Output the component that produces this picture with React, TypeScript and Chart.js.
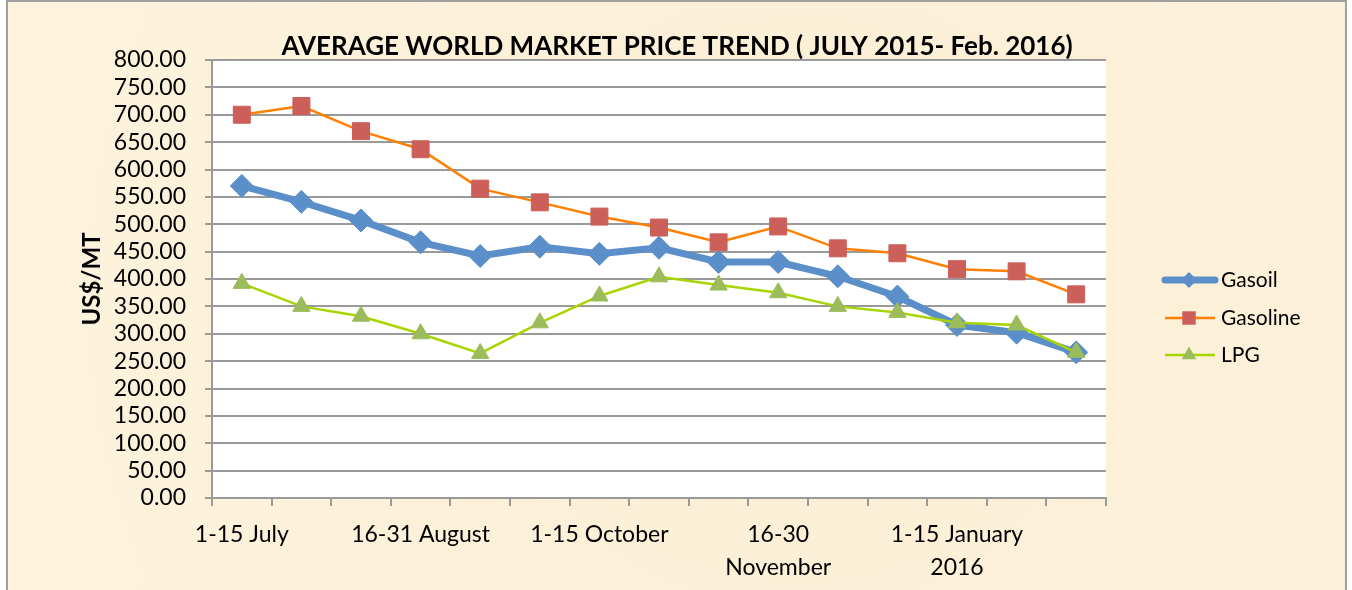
import React, { useEffect, useRef } from "react";
import { Chart, registerables } from "chart.js";

Chart.register(...registerables);

const categories: (string | string[])[] = [
  "1-15 July",
  "16-31 July",
  "1-15 August",
  "16-31 August",
  "1-15 September",
  "16-30 September",
  "1-15 October",
  "16-31 October",
  "1-15 November",
  ["16-30", "November"],
  "1-15 December",
  "16-31 December",
  ["1-15 January", "2016"],
  "16-31 January 2016",
  "1-15 February 2016",
];

const gasoil = [570, 541, 507, 467, 442, 459, 446, 457, 431, 431, 405, 368, 316, 302, 266];
const gasoline = [700, 716, 670, 637, 565, 540, 514, 494, 467, 496, 456, 447, 418, 414, 372];
const lpg = [392, 350, 332, 300, 264, 320, 369, 404, 389, 375, 350, 339, 320, 316, 266];

const titleText = "AVERAGE WORLD MARKET PRICE TREND ( JULY 2015- Feb. 2016)";
const yTitle = "US$/MT";
const seriesNames = ["Gasoil", "Gasoline", "LPG"];

const FONT = "Lato, 'Open Sans', sans-serif";

const W = 1352;
const H = 590;

export default function App() {
  const ref = useRef<HTMLCanvasElement | null>(null);

  useEffect(() => {
    document.body.style.margin = "0";
    const canvas = ref.current!;
    const styles = [
      { line: "#5b8fca", point: "#5b8fca", width: 7, style: "rectRot", radius: 11.5 },
      { line: "#ff8000", point: "#cd5f5b", width: 2.5, style: "rect", radius: 12 },
      { line: "#a8d500", point: "#9cbc5b", width: 2.5, style: "triangle", radius: 10 },
    ];

    const bgPlugin = {
      id: "bg",
      beforeDraw(chart: any) {
        const { ctx, chartArea } = chart;
        ctx.save();
        ctx.fillStyle = "#ffffff";
        ctx.fillRect(0, 0, W, H);
        ctx.fillStyle = "#fcf0d9";
        ctx.fillRect(7, 1, 1339, H);
        const g = ctx.createRadialGradient(800, 300, 20, 800, 300, 800);
        g.addColorStop(0, "rgba(248,232,198,0.25)");
        g.addColorStop(1, "rgba(255,250,235,0.2)");
        ctx.fillStyle = g;
        ctx.fillRect(7, 1, 1339, H);
        ctx.strokeStyle = "#a0a0a0";
        ctx.lineWidth = 2;
        ctx.strokeRect(7, 1, 1339, H + 5);
        ctx.fillStyle = "#ffffff";
        ctx.fillRect(chartArea.left, chartArea.top, chartArea.right - chartArea.left, chartArea.bottom - chartArea.top);
        ctx.restore();
      },
      beforeDatasetsDraw(chart: any) {
        const { ctx, chartArea } = chart;
        ctx.save();
        ctx.strokeStyle = "#9a9a9a";
        ctx.lineWidth = 2;
        ctx.beginPath();
        ctx.moveTo(chartArea.left - 1, chartArea.bottom);
        ctx.lineTo(chartArea.right + 1, chartArea.bottom);
        ctx.stroke();
        ctx.restore();
      },
      afterDraw(chart: any) {
        const { ctx } = chart;
        ctx.save();
        ctx.fillStyle = "#000";
        ctx.font = `bold 26px ${FONT}`;
        ctx.textAlign = "center";
        ctx.textBaseline = "middle";
        ctx.fillText(titleText, 677, 47);

        ctx.translate(92, 279);
        ctx.rotate(-Math.PI / 2);
        ctx.font = `bold 24px ${FONT}`;
        ctx.fillText(yTitle, 0, 0);
        ctx.restore();

        // legend
        const ys = [280, 318, 355];
        ctx.save();
        seriesNames.forEach((name, i) => {
          const s = styles[i];
          const y = ys[i];
          ctx.strokeStyle = s.line;
          ctx.lineWidth = s.width;
          ctx.lineCap = i === 0 ? "round" : "butt";
          ctx.beginPath();
          ctx.moveTo(1165, y);
          ctx.lineTo(1215, y);
          ctx.stroke();
          const r = i === 0 ? 8 : i === 1 ? 9.5 : 8.5;
          ctx.fillStyle = s.point;
          ctx.beginPath();
          if (i === 0) {
            ctx.moveTo(1189, y - r);
            ctx.lineTo(1189 + r, y);
            ctx.lineTo(1189, y + r);
            ctx.lineTo(1189 - r, y);
          } else if (i === 1) {
            const h = r * Math.SQRT1_2;
            ctx.rect(1189 - h, y - h, 2 * h, 2 * h);
          } else {
            ctx.moveTo(1189, y - r);
            ctx.lineTo(1189 + r * 0.866, y + r * 0.5);
            ctx.lineTo(1189 - r * 0.866, y + r * 0.5);
          }
          ctx.closePath();
          ctx.fill();
          ctx.fillStyle = "#000";
          ctx.font = `21px ${FONT}`;
          ctx.textAlign = "left";
          ctx.textBaseline = "middle";
          ctx.fillText(name, 1221, y);
        });
        ctx.restore();
      },
    };

    const data = [gasoil, gasoline, lpg];
    const chart = new Chart(canvas, {
      type: "line",
      data: {
        labels: categories as any,
        datasets: seriesNames.map((name, i) => ({
          label: name,
          data: data[i],
          borderColor: styles[i].line,
          borderWidth: styles[i].width,
          backgroundColor: styles[i].point,
          pointBackgroundColor: styles[i].point,
          pointBorderColor: styles[i].point,
          pointBorderWidth: 1,
          pointStyle: styles[i].style as any,
          pointRadius: styles[i].radius,
          pointHoverRadius: styles[i].radius,
          tension: 0,
          fill: false,
          order: 3 - i,
        })),
      },
      options: {
        responsive: false,
        animation: false,
        devicePixelRatio: 1,
        layout: { padding: { top: 60, right: W - 1106, left: 0, bottom: 0 } },
        plugins: {
          legend: { display: false },
          title: { display: false },
          tooltip: { enabled: false },
        },
        scales: {
          x: {
            offset: true,
            grid: {
              offset: true,
              drawOnChartArea: false,
              drawTicks: true,
              tickLength: 8,
              color: "#9a9a9a",
              lineWidth: 2,
            },
            border: { display: false },
            ticks: {
              autoSkip: false,
              maxRotation: 0,
              minRotation: 0,
              padding: 12,
              color: "#000",
              font: { family: FONT, size: 23, lineHeight: 1.45 },
              callback: (_v: any, idx: number) => (idx % 3 === 0 ? (categories[idx] as any) : ""),
            },
            afterFit: (axis: any) => {
              axis.height = 92;
            },
          },
          y: {
            min: 0,
            max: 800,
            grid: {
              color: "#9a9a9a",
              lineWidth: 2,
              drawTicks: true,
              tickLength: 7,
            },
            border: { color: "#9a9a9a", width: 2 },
            ticks: {
              stepSize: 50,
              autoSkip: false,
              padding: 19,
              color: "#000",
              font: { family: FONT, size: 23, lineHeight: 1 },
              callback: (v: any) => Number(v).toFixed(2),
            },
            afterFit: (axis: any) => {
              axis.width = 212;
            },
          },
        },
      },
      plugins: [bgPlugin],
    });
    return () => chart.destroy();
  }, []);

  return (
    <div style={{ width: W, height: H }}>
      <canvas ref={ref} width={W} height={H} style={{ display: "block" }} />
    </div>
  );
}
